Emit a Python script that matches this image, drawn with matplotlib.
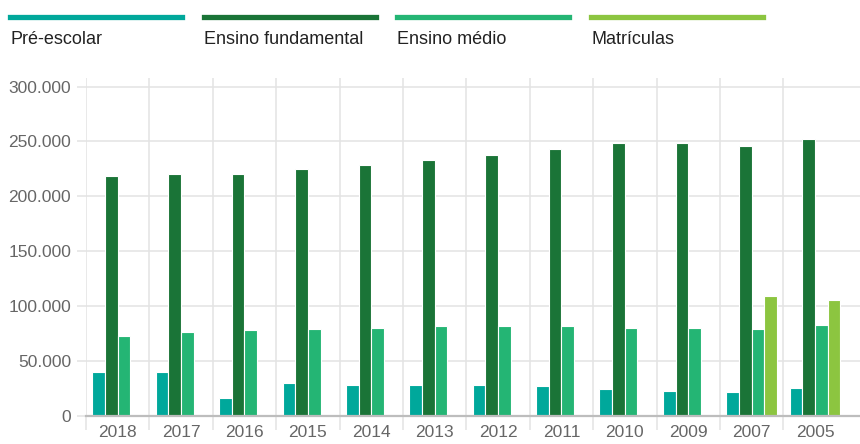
import numpy as np
import matplotlib.pyplot as plt
from matplotlib.lines import Line2D
from matplotlib.ticker import FuncFormatter

plt.rcParams['font.family'] = ['Liberation Sans', 'DejaVu Sans']

years = ['2018', '2017', '2016', '2015', '2014', '2013', '2012', '2011', '2010', '2009', '2007', '2005']
pre_escolar = [39600, 40000, 16100, 29500, 28000, 28000, 28000, 26800, 24100, 22800, 21600, 25300]
fundamental = [218300, 220700, 220700, 225000, 228600, 232900, 237700, 242900, 248400, 248400, 245600, 252000]
medio = [72400, 76300, 77900, 78800, 80200, 81500, 81500, 81500, 80200, 80200, 78800, 82700]
matriculas = [np.nan] * 10 + [108900, 105200]

series = [
    ('Pré-escolar', pre_escolar, '#00a89b'),
    ('Ensino fundamental', fundamental, '#1a7437'),
    ('Ensino médio', medio, '#24b574'),
    ('Matrículas', matriculas, '#8cc540'),
]

fig = plt.figure(figsize=(8.6, 4.44), dpi=100)
ax = fig.add_axes([86 / 860, 1 - 415.7 / 444, 1 - 86 / 860, (415.7 - 78.3) / 444])

x = np.arange(len(years))
slot = 0.2
for i, (name, vals, color) in enumerate(series):
    ax.bar(x + (i - 1.5) * slot, vals, width=slot, color=color,
           edgecolor='white', linewidth=0.8, zorder=3)

ax.set_xlim(-0.5, 11.71)
ax.set_ylim(0, 307600)

grid = '#e3e3e3'
ax.set_yticks(np.arange(0, 300001, 50000))
ax.yaxis.set_major_formatter(FuncFormatter(lambda v, p: f'{int(v):,}'.replace(',', '.')))
ax.tick_params(axis='y', length=6.5, width=1.1, color=grid, pad=4.3,
               labelsize=12.5, labelcolor='#666666')
ax.grid(axis='y', color=grid, linewidth=1.1, zorder=0)

ax.set_xticks(x)
ax.set_xticklabels(years)
ax.set_xticks(np.arange(-0.5, 11), minor=True)
ax.tick_params(axis='x', which='major', length=0, pad=7, labelsize=12.5, labelcolor='#666666')
ax.tick_params(axis='x', which='minor', length=10, width=1.1, color=grid)
ax.grid(axis='x', which='minor', color=grid, linewidth=1.1, zorder=0)

for side in ['top', 'right', 'left']:
    ax.spines[side].set_visible(False)
ax.spines['bottom'].set_color('#bdbdbd')
ax.spines['bottom'].set_linewidth(1.6)
ax.spines['bottom'].set_zorder(4)

# legend across the top
for i, (name, vals, color) in enumerate(series):
    x0 = (10 + i * 193.7) / 860
    x1 = x0 + 172 / 860
    fig.add_artist(Line2D([x0, x1], [1 - 17.5 / 444] * 2, color=color, linewidth=3.8,
                          transform=fig.transFigure))
    fig.text(x0, 1 - 39.5 / 444, name, fontsize=13, color='#222222', va='center', ha='left')

fig.savefig('out.png', dpi=100)
